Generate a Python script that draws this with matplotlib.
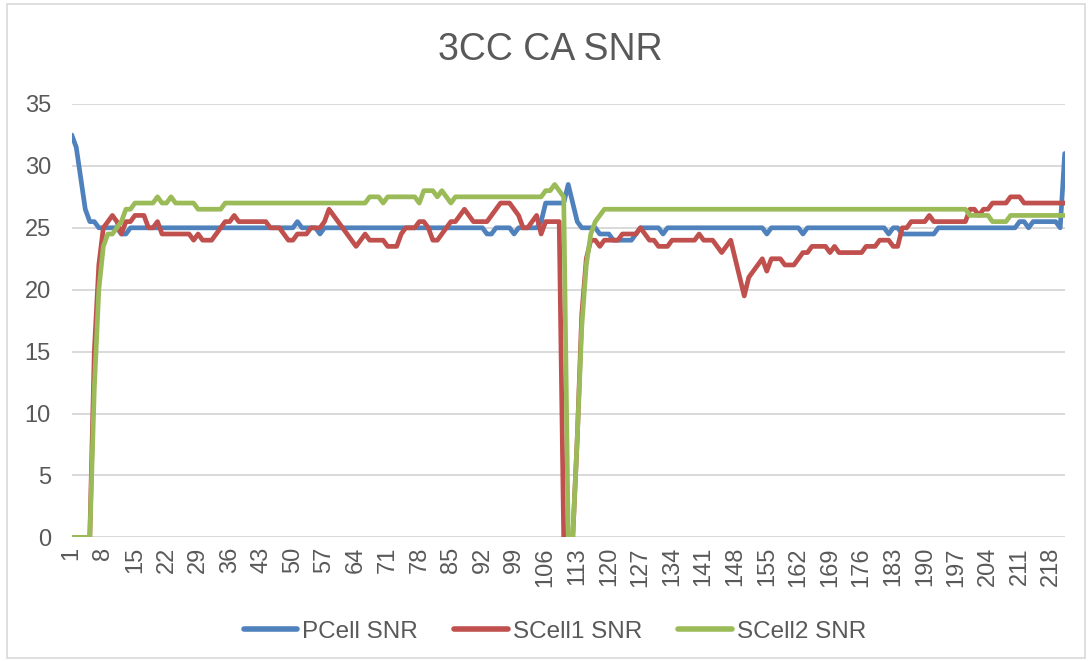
import numpy as np
import matplotlib
matplotlib.use("Agg")
import matplotlib.pyplot as plt
from matplotlib.patches import Rectangle

plt.rcParams['font.family'] = ['Liberation Sans', 'DejaVu Sans']

title = "3CC CA SNR"
series_names = ["PCell SNR", "SCell1 SNR", "SCell2 SNR"]
colors = ["#4F81BD", "#C0504D", "#9BBB59"]

pcell_snr = [
    32.5, 31.5, 29, 26.5, 25.5, 25.5, 25, 25, 25, 25,
    25, 24.5, 24.5, 25, 25, 25, 25, 25, 25, 25,
    25, 25, 25, 25, 25, 25, 25, 25, 25, 25,
    25, 25, 25, 25, 25, 25, 25, 25, 25, 25,
    25, 25, 25, 25, 25, 25, 25, 25, 25, 25,
    25.5, 25, 25, 25, 25, 24.5, 25, 25, 25, 25,
    25, 25, 25, 25, 25, 25, 25, 25, 25, 25,
    25, 25, 25, 25, 25, 25, 25, 25, 25, 25,
    25, 25, 25, 25, 25, 25, 25, 25, 25, 25,
    25, 25, 24.5, 24.5, 25, 25, 25, 25, 24.5, 25,
    25, 25, 25, 25, 25.5, 27, 27, 27, 27, 27,
    28.5, 27, 25.5, 25, 25, 25, 25, 24.5, 24.5, 24.5,
    24, 24, 24, 24, 24, 24.5, 25, 25, 25, 25,
    25, 24.5, 25, 25, 25, 25, 25, 25, 25, 25,
    25, 25, 25, 25, 25, 25, 25, 25, 25, 25,
    25, 25, 25, 25, 24.5, 25, 25, 25, 25, 25,
    25, 25, 24.5, 25, 25, 25, 25, 25, 25, 25,
    25, 25, 25, 25, 25, 25, 25, 25, 25, 25,
    25, 24.5, 25, 25, 24.5, 24.5, 24.5, 24.5, 24.5, 24.5,
    24.5, 24.5, 25, 25, 25, 25, 25, 25, 25, 25,
    25, 25, 25, 25, 25, 25, 25, 25, 25, 25,
    25.5, 25.5, 25, 25.5, 25.5, 25.5, 25.5, 25.5, 25.5, 25,
    31,
]

scell1_snr = [
    0, 0, 0, 0, 0, 15, 22, 25, 25.5, 26,
    25.5, 24.5, 25.5, 25.5, 26, 26, 26, 25, 25, 25.5,
    24.5, 24.5, 24.5, 24.5, 24.5, 24.5, 24.5, 24, 24.5, 24,
    24, 24, 24.5, 25, 25.5, 25.5, 26, 25.5, 25.5, 25.5,
    25.5, 25.5, 25.5, 25.5, 25, 25, 25, 24.5, 24, 24,
    24.5, 24.5, 24.5, 25, 25, 25, 25.5, 26.5, 26, 25.5,
    25, 24.5, 24, 23.5, 24, 24.5, 24, 24, 24, 24,
    23.5, 23.5, 23.5, 24.5, 25, 25, 25, 25.5, 25.5, 25,
    24, 24, 24.5, 25, 25.5, 25.5, 26, 26.5, 26, 25.5,
    25.5, 25.5, 25.5, 26, 26.5, 27, 27, 27, 26.5, 26,
    25, 25, 25.5, 26, 24.5, 25.5, 25.5, 25.5, 25.5, 0,
    0, 0, 8, 18, 22.5, 24, 24, 23.5, 24, 24,
    24, 24, 24.5, 24.5, 24.5, 24.5, 25, 24.5, 24, 24,
    23.5, 23.5, 23.5, 24, 24, 24, 24, 24, 24, 24.5,
    24, 24, 24, 23.5, 23, 23.5, 24, 22.5, 21, 19.5,
    21, 21.5, 22, 22.5, 21.5, 22.5, 22.5, 22.5, 22, 22,
    22, 22.5, 23, 23, 23.5, 23.5, 23.5, 23.5, 23, 23.5,
    23, 23, 23, 23, 23, 23, 23.5, 23.5, 23.5, 24,
    24, 24, 23.5, 23.5, 25, 25, 25.5, 25.5, 25.5, 25.5,
    26, 25.5, 25.5, 25.5, 25.5, 25.5, 25.5, 25.5, 25.5, 26.5,
    26.5, 26, 26.5, 26.5, 27, 27, 27, 27, 27.5, 27.5,
    27.5, 27, 27, 27, 27, 27, 27, 27, 27, 27,
    27,
]

scell2_snr = [
    0, 0, 0, 0, 0, 12, 20, 23.5, 24.5, 24.5,
    25, 25.5, 26.5, 26.5, 27, 27, 27, 27, 27, 27.5,
    27, 27, 27.5, 27, 27, 27, 27, 27, 26.5, 26.5,
    26.5, 26.5, 26.5, 26.5, 27, 27, 27, 27, 27, 27,
    27, 27, 27, 27, 27, 27, 27, 27, 27, 27,
    27, 27, 27, 27, 27, 27, 27, 27, 27, 27,
    27, 27, 27, 27, 27, 27, 27.5, 27.5, 27.5, 27,
    27.5, 27.5, 27.5, 27.5, 27.5, 27.5, 27.5, 27, 28, 28,
    28, 27.5, 28, 27.5, 27, 27.5, 27.5, 27.5, 27.5, 27.5,
    27.5, 27.5, 27.5, 27.5, 27.5, 27.5, 27.5, 27.5, 27.5, 27.5,
    27.5, 27.5, 27.5, 27.5, 27.5, 28, 28, 28.5, 28, 27.5,
    0, 0, 8, 17, 22, 24.5, 25.5, 26, 26.5, 26.5,
    26.5, 26.5, 26.5, 26.5, 26.5, 26.5, 26.5, 26.5, 26.5, 26.5,
    26.5, 26.5, 26.5, 26.5, 26.5, 26.5, 26.5, 26.5, 26.5, 26.5,
    26.5, 26.5, 26.5, 26.5, 26.5, 26.5, 26.5, 26.5, 26.5, 26.5,
    26.5, 26.5, 26.5, 26.5, 26.5, 26.5, 26.5, 26.5, 26.5, 26.5,
    26.5, 26.5, 26.5, 26.5, 26.5, 26.5, 26.5, 26.5, 26.5, 26.5,
    26.5, 26.5, 26.5, 26.5, 26.5, 26.5, 26.5, 26.5, 26.5, 26.5,
    26.5, 26.5, 26.5, 26.5, 26.5, 26.5, 26.5, 26.5, 26.5, 26.5,
    26.5, 26.5, 26.5, 26.5, 26.5, 26.5, 26.5, 26.5, 26.5, 26,
    26, 26, 26, 26, 25.5, 25.5, 25.5, 25.5, 26, 26,
    26, 26, 26, 26, 26, 26, 26, 26, 26, 26,
    26,
]

y_ticks = [0, 5, 10, 15, 20, 25, 30, 35]
x_tick_step = 7

n = len(pcell_snr)
x = np.arange(1, n + 1)

fig = plt.figure(figsize=(10.92, 6.61), dpi=100)
ax = fig.add_axes([0.0657, 0.187, 0.9093, 0.6557])

text_color = "#595959"
grid_color = "#D9D9D9"

for vals, name, c in zip([pcell_snr, scell1_snr, scell2_snr], series_names, colors):
    ax.plot(x, vals, color=c, lw=3.4, label=name, solid_joinstyle='round',
            solid_capstyle='round', zorder=3)

ax.set_xlim(1, n)
ax.set_ylim(0, 35)
ax.set_yticks(y_ticks)
xt = list(range(1, n + 1, x_tick_step))
ax.set_xticks(xt)
ax.set_xticklabels([str(v) for v in xt], rotation=90)
ax.grid(axis='y', color=grid_color, lw=1.4, zorder=0)
for s in ax.spines.values():
    s.set_visible(False)
ax.tick_params(axis='both', length=0, colors=text_color, labelsize=17)
ax.tick_params(axis='y', pad=15)
ax.tick_params(axis='x', pad=7)
ax.axhline(0, color=grid_color, lw=1.4, zorder=1)

fig.text(0.504, 0.924, title, ha='center', va='center', fontsize=27, color=text_color)

leg = fig.legend(loc='center', bbox_to_anchor=(0.508, 0.044), ncol=3, frameon=False,
                 fontsize=17.5, handlelength=2.2, handletextpad=0.2, columnspacing=1.5,
                 labelcolor=text_color)
for h in leg.get_lines():
    h.set_linewidth(4)

fig.patches.append(Rectangle((0.006, 0.004), 0.988, 0.99, transform=fig.transFigure,
                             fill=False, edgecolor="#D9D9D9", lw=1.2))

fig.savefig("out.png", dpi=100, facecolor="white")
